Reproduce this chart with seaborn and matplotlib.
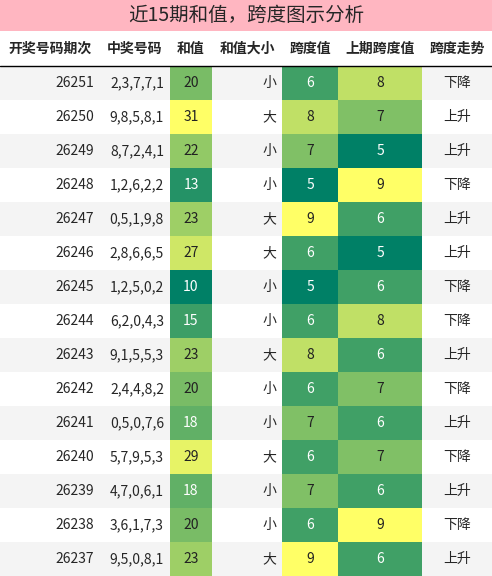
import matplotlib
matplotlib.use("Agg")
import matplotlib.pyplot as plt
import seaborn as sns
from matplotlib.patches import Rectangle
from matplotlib.colors import Normalize

sns.set_style("white")
plt.rcParams['font.family'] = ['Noto Sans CJK SC', 'DejaVu Sans']

title = "近15期和值，跨度图示分析"
headers = ["开奖号码期次", "中奖号码", "和值", "和值大小", "跨度值", "上期跨度值", "跨度走势"]
periods = [26251,26250,26249,26248,26247,26246,26245,26244,26243,26242,26241,26240,26239,26238,26237]
numbers = ["2,3,7,7,1","9,8,5,8,1","8,7,2,4,1","1,2,6,2,2","0,5,1,9,8","2,8,6,6,5","1,2,5,0,2",
           "6,2,0,4,3","9,1,5,5,3","2,4,4,8,2","0,5,0,7,6","5,7,9,5,3","4,7,0,6,1","3,6,1,7,3","9,5,0,8,1"]
sums = [20,31,22,13,23,27,10,15,23,20,18,29,18,20,23]
sizes = ["小","大","小","小","大","大","小","小","大","小","小","大","小","小","大"]
spans = [6,8,7,5,9,6,5,6,8,6,7,6,7,6,9]
prev_spans = [8,7,5,9,6,5,6,8,6,7,6,7,6,9,6]
trends = ["下降","上升","上升","下降","上升","上升","下降","下降","上升","下降","上升","下降","上升","下降","上升"]

W, H = 492, 576
fig = plt.figure(figsize=(W/100, H/100), dpi=100)
ax = fig.add_axes([0, 0, 1, 1])
ax.set_xlim(0, W); ax.set_ylim(H, 0); ax.axis('off')

cols = [0, 100, 170, 212, 282, 338, 422, 492]
title_h, head_h = 31, 35
row_h = (H - title_h - head_h) / len(periods)
cmap = plt.get_cmap('summer')

ax.add_patch(Rectangle((0, 0), W, title_h, color='#FFB6C1', lw=0))
ax.text(W/2, title_h/2, title, ha='center', va='center', fontsize=14)
ax.plot([0, W], [title_h + head_h, title_h + head_h], color='black', lw=1)
for i, h in enumerate(headers):
    ax.text((cols[i]+cols[i+1])/2, title_h + head_h/2, h, ha='center', va='center',
            fontsize=10, fontweight='bold')

def norm_of(vals):
    return Normalize(min(vals), max(vals))
ns, nsp, npv = norm_of(sums), norm_of(spans), norm_of(prev_spans)

for r in range(len(periods)):
    y0 = title_h + head_h + r*row_h
    yc = y0 + row_h/2
    if r % 2 == 0:
        ax.add_patch(Rectangle((0, y0), W, row_h, color='#F4F4F4', lw=0))
    texts = [str(periods[r]), numbers[r], None, sizes[r], None, None, trends[r]]
    for ci, (vals, nm) in {2: (sums, ns), 4: (spans, nsp), 5: (prev_spans, npv)}.items():
        v = vals[r]; t = nm(v)
        ax.add_patch(Rectangle((cols[ci], y0), cols[ci+1]-cols[ci], row_h, color=cmap(t), lw=0))
        ax.text((cols[ci]+cols[ci+1])/2, yc, str(v), ha='center', va='center', fontsize=10,
                color='white' if t < 0.45 else '#222222')
    for ci, t in enumerate(texts):
        if t is None: continue
        if ci == 6:
            ax.text((cols[ci]+cols[ci+1])/2, yc, t, ha='center', va='center', fontsize=10)
        else:
            ax.text(cols[ci+1]-6, yc, t, ha='right', va='center', fontsize=10)

fig.savefig("out.png", dpi=100)
